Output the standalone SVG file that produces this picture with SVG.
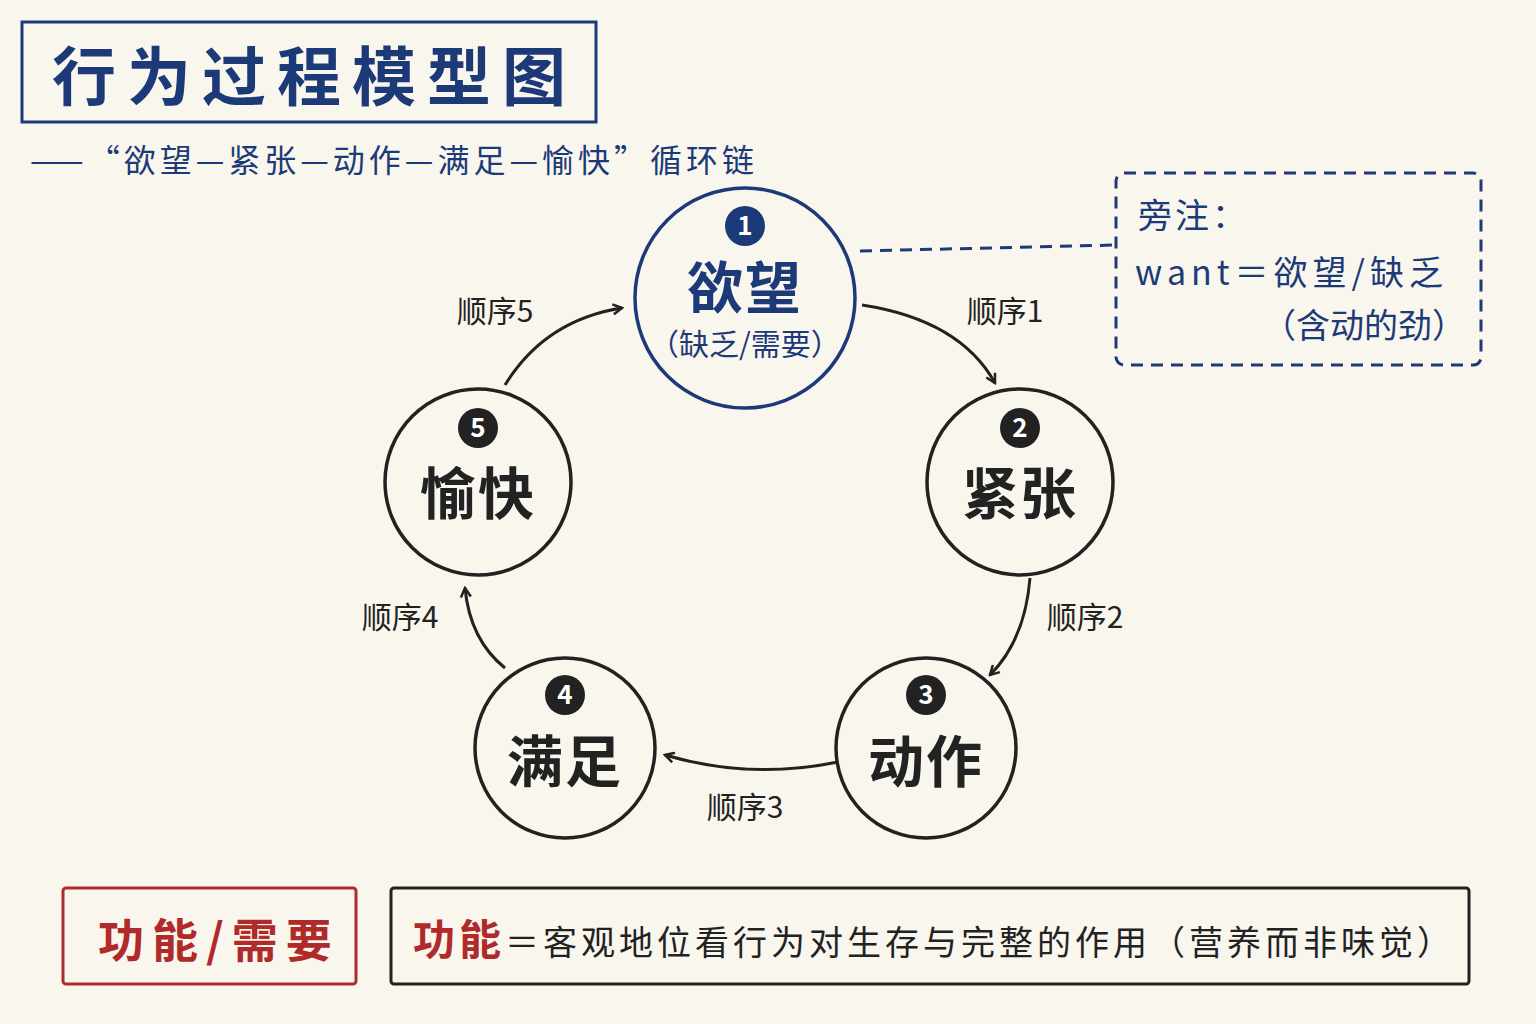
<svg xmlns="http://www.w3.org/2000/svg" width="1536" height="1024" viewBox="0 0 1536 1024">
<defs>
<marker id="ah" viewBox="0 0 12 12" refX="10" refY="6" markerWidth="12" markerHeight="12" markerUnits="userSpaceOnUse" orient="auto"><path d="M1,1 L10,6 L1,11" fill="none" stroke="#222" stroke-width="2.5"/></marker>
</defs>
<style>
text{font-family:"Noto Sans CJK SC","Noto Sans",sans-serif}
.nav{fill:#1d3a78}
.node{fill:none;stroke:#222;stroke-width:3.5}
.nt{font-size:56px;font-weight:bold;fill:#222;text-anchor:middle;letter-spacing:2px}
.bt{font-size:26px;font-weight:bold;fill:#fff;text-anchor:middle}
.lbl{font-size:30px;fill:#222;text-anchor:middle}
.con{fill:none;stroke:#222;stroke-width:3;marker-end:url(#ah)}
</style>
<rect width="1536" height="1024" fill="#f9f6ee"/>
<g id="title">
<rect x="22" y="22" width="574" height="100" fill="none" stroke="#1d3a78" stroke-width="3"/>
<text x="52" y="100" font-size="64" font-weight="bold" class="nav" letter-spacing="11">行为过程模型图</text>
<text x="30" y="172" font-size="32" class="nav" letter-spacing="4">——“欲望—紧张—动作—满足—愉快”循环链</text>
</g>
<g id="connectors">
<path class="con" d="M862,305 Q960,320 995,383"/>
<path class="con" d="M1030,578 Q1025,640 990,675"/>
<path class="con" d="M838,762 Q750,780 665,755"/>
<path class="con" d="M505,668 Q470,640 465,588"/>
<path class="con" d="M505,385 Q545,320 622,308"/>
<path d="M860,251 L1116,245" fill="none" stroke="#1d3a78" stroke-width="3" stroke-dasharray="12,8"/>
<text class="lbl" x="1005" y="322">顺序1</text>
<text class="lbl" x="1085" y="628">顺序2</text>
<text class="lbl" x="745" y="818">顺序3</text>
<text class="lbl" x="400" y="628">顺序4</text>
<text class="lbl" x="495" y="322">顺序5</text>
</g>
<g id="n1">
<circle cx="745" cy="298" r="110" fill="none" stroke="#1d3a78" stroke-width="3.5"/>
<circle cx="745" cy="226" r="20" fill="#1d3a78"/><text class="bt" x="745" y="235">1</text>
<text class="nt" x="745" y="308" style="fill:#1d3a78">欲望</text>
<text x="745" y="355" font-size="30" text-anchor="middle" class="nav">（缺乏/需要）</text>
</g>
<g id="n2"><circle class="node" cx="1020" cy="482" r="93"/><circle cx="1020" cy="428" r="20" fill="#222"/><text class="bt" x="1020" y="437">2</text><text class="nt" x="1020" y="514">紧张</text></g>
<g id="n3"><circle class="node" cx="926" cy="748" r="90"/><circle cx="926" cy="695" r="20" fill="#222"/><text class="bt" x="926" y="704">3</text><text class="nt" x="926" y="782">动作</text></g>
<g id="n4"><circle class="node" cx="565" cy="748" r="90"/><circle cx="565" cy="695" r="20" fill="#222"/><text class="bt" x="565" y="704">4</text><text class="nt" x="565" y="782">满足</text></g>
<g id="n5"><circle class="node" cx="478" cy="482" r="93"/><circle cx="478" cy="428" r="20" fill="#222"/><text class="bt" x="478" y="437">5</text><text class="nt" x="478" y="514">愉快</text></g>
<g id="note">
<rect x="1116" y="173" width="365" height="192" rx="8" fill="none" stroke="#1d3a78" stroke-width="3" stroke-dasharray="12,8"/>
<text x="1138" y="228" font-size="34" class="nav" letter-spacing="3">旁注：</text>
<text x="1135" y="285" font-size="34" class="nav" letter-spacing="5">want＝欲望/缺乏</text>
<text x="1262" y="338" font-size="34" class="nav">（含动的劲）</text>
</g>
<g id="func">
<rect x="63" y="888" width="293" height="96" rx="3" fill="none" stroke="#b02a2a" stroke-width="3"/>
<text x="98" y="957" font-size="46" font-weight="bold" fill="#b02a2a" letter-spacing="8">功能/需要</text>
</g>
<g id="def">
<rect x="391" y="888" width="1078" height="96" rx="3" fill="none" stroke="#222" stroke-width="3"/>
<text x="413" y="955" font-size="34" fill="#222" letter-spacing="4"><tspan font-size="42" font-weight="bold" fill="#b02a2a">功能</tspan>＝客观地位看行为对生存与完整的作用（营养而非味觉）</text>
</g>
</svg>
